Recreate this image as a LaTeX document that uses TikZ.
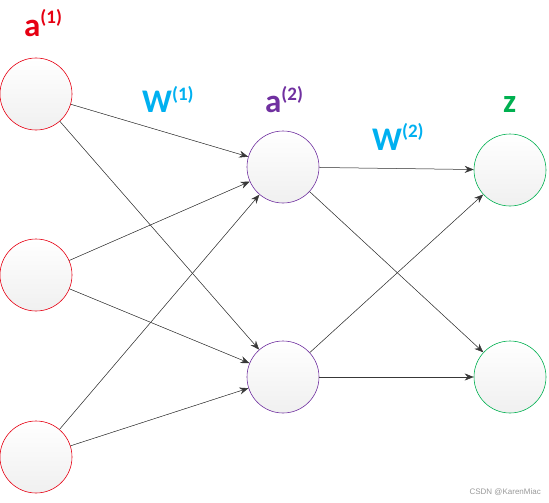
\documentclass[tikz,border=0pt]{standalone}
\usepackage{fontspec}
\setmainfont{Carlito}
\newfontfamily\markfont{Liberation Sans}
\usepackage{xcolor}
\usetikzlibrary{positioning,arrows.meta}
\definecolor{inred}{RGB}{230,0,18}
\definecolor{wblue}{RGB}{0,176,240}
\definecolor{hidpurple}{RGB}{112,48,160}
\definecolor{outgreen}{RGB}{0,176,80}
\newcommand{\layerlbl}[2]{#1\raisebox{13pt}{\fontsize{19}{20}\selectfont\bfseries(#2)}}

\begin{document}
\begin{tikzpicture}[
  x=1pt, y=-1pt,
  neuron/.style={circle, draw, minimum size=72pt, inner sep=0pt, top color=white, bottom color=black!6, line width=0.6pt},
  arr/.style={-{Stealth[length=9pt, width=7pt]}, draw=black!78, fill=black!78, line width=0.5pt},
  lbl/.style={anchor=base west, inner sep=0pt, font=\fontsize{33}{34}\selectfont\bfseries},
]
  \useasboundingbox (0,0) rectangle (549,503);

  % input layer
  \node[neuron, draw=inred] (in1) at (36,94) {};
  \node[neuron, draw=inred] (in2) at (36,275) {};
  \node[neuron, draw=inred] (in3) at (36,457) {};
  % hidden layer
  \node[neuron, draw=hidpurple] (hid1) at (283,167) {};
  \node[neuron, draw=hidpurple] (hid2) at (283,377) {};
  % output layer
  \node[neuron, draw=outgreen] (out1) at (510,170) {};
  \node[neuron, draw=outgreen] (out2) at (510,377) {};

  \foreach \i in {1,2,3}
    \foreach \j in {1,2}
      \draw[arr] (in\i) -- (hid\j);
  \foreach \j in {1,2}
    \foreach \k in {1,2}
      \draw[arr] (hid\j) -- (out\k);

  % labels
  \node[lbl, text=inred] (la1) at (24,37) {\layerlbl{a}{1}};
  \node[lbl, text=wblue] (lw1) at (142,113) {\layerlbl{W}{1}};
  \node[lbl, text=hidpurple] (la2) at (265,113) {\layerlbl{a}{2}};
  \node[lbl, text=wblue] (lw2) at (372,150) {\layerlbl{W}{2}};
  \node[lbl, text=outgreen] (lz) at (503,113) {z};

  \node[anchor=east, inner sep=0pt, text=black!40, font=\markfont\fontsize{8}{9}\selectfont] (mark) at (541,492) {CSDN @KarenMiac};
\end{tikzpicture}
\end{document}
